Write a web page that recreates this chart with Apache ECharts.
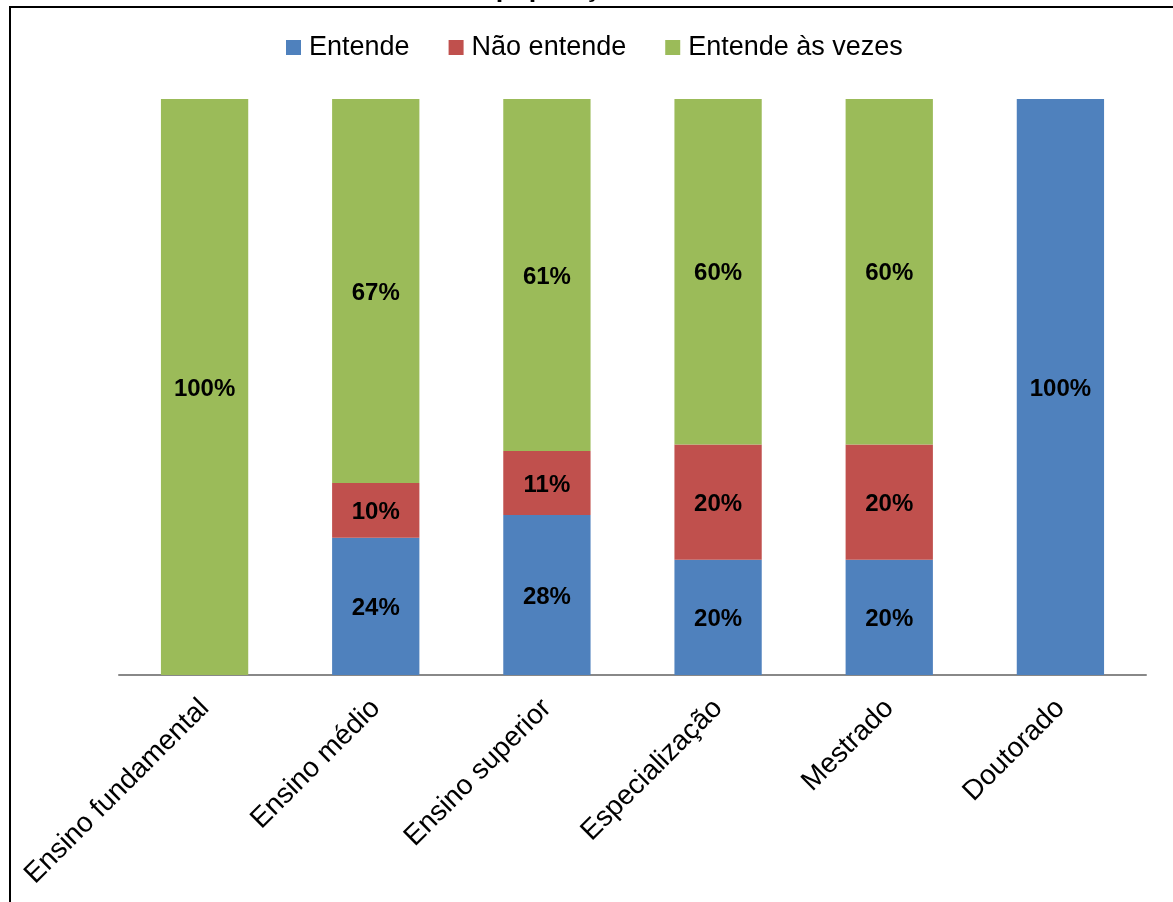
<!DOCTYPE html>
<html>
<head>
<meta charset="utf-8">
<script src="https://cdn.jsdelivr.net/npm/echarts@6/dist/echarts.min.js"></script>
<style>
  html, body { margin: 0; padding: 0; background: #fff; }
  #chart { width: 1173px; height: 902px; }
</style>
</head>
<body>
<div id="chart"></div>
<script>
// Escolaridade da população amostral
const categories = ['Ensino fundamental', 'Ensino médio', 'Ensino superior', 'Especialização', 'Mestrado', 'Doutorado'];
const seriesNames = ['Entende', 'Não entende', 'Entende às vezes'];
// Percentuais por nível de escolaridade
const entende       = [0,   23.81, 27.78, 20, 20, 100];
const naoEntende    = [0,    9.52, 11.11, 20, 20,   0];
const entendeAsVezes = [100, 66.67, 61.11, 60, 60,   0];
const colors = ['#4F81BD', '#C0504D', '#9BBB59'];
const titleLine = 'da população amostra';

const FONT = '"Liberation Sans", Arial, sans-serif';

function makeSeries(name, data, color) {
  return {
    name: name,
    type: 'bar',
    stack: 'total',
    data: data,
    barWidth: '51%',
    itemStyle: { color: color },
    label: {
      show: true,
      position: 'inside',
      offset: [0, 2],
      color: '#000',
      fontFamily: FONT,
      fontWeight: 'bold',
      fontSize: 24,
      formatter: p => (p.value > 0 ? Math.round(p.value) + '%' : '')
    },
    emphasis: { disabled: true }
  };
}

const chart = echarts.init(document.getElementById('chart'), null, { renderer: 'canvas' });
chart.setOption({
  animation: false,
  backgroundColor: '#fff',
  textStyle: { fontFamily: FONT },
  grid: { left: 119, right: 27, top: 99, bottom: 227, containLabel: false },
  legend: {
    data: seriesNames,
    left: 281,
    top: 29,
    itemWidth: 15,
    itemHeight: 15,
    itemGap: 39,
    icon: 'rect',
    textStyle: { fontFamily: FONT, fontSize: 27, color: '#000', padding: [0, 0, 0, 3] }
  },
  xAxis: {
    type: 'category',
    data: categories,
    axisLine: { lineStyle: { color: '#888', width: 2 } },
    axisTick: { show: false },
    axisLabel: {
      rotate: 45,
      margin: 29,
      interval: 0,
      color: '#000',
      fontFamily: FONT,
      fontSize: 28
    }
  },
  yAxis: {
    type: 'value',
    min: 0,
    max: 100,
    show: false,
    splitLine: { show: false }
  },
  series: [
    makeSeries(seriesNames[0], entende, colors[0]),
    makeSeries(seriesNames[1], naoEntende, colors[1]),
    makeSeries(seriesNames[2], entendeAsVezes, colors[2])
  ],
  graphic: [
    {
      type: 'rect',
      shape: { x: 10, y: 7, width: 1200, height: 1000 },
      style: { fill: 'none', stroke: '#000', lineWidth: 2 },
      silent: true,
      z: 100
    },
    {
      type: 'text',
      style: {
        text: titleLine,
        x: 600,
        y: -11,
        textAlign: 'center',
        textVerticalAlign: 'middle',
        font: 'bold 27px ' + FONT,
        fill: '#000'
      },
      silent: true
    }
  ]
});
</script>
</body>
</html>
